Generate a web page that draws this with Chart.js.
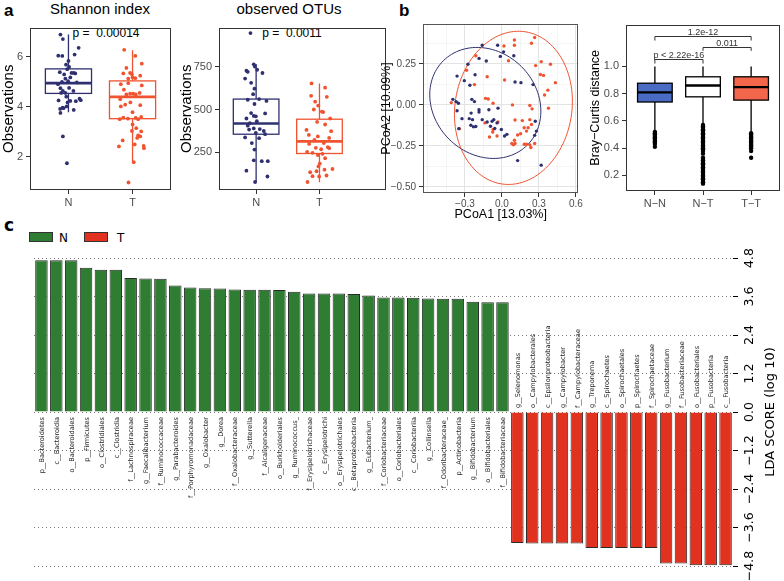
<!DOCTYPE html>
<html>
<head>
<meta charset="utf-8">
<script src="https://cdn.jsdelivr.net/npm/chart.js@4.4.0/dist/chart.umd.min.js"></script>
<style>
  body { margin: 0; width: 784px; height: 581px; overflow: hidden; position: relative; background: #fff; font-family: 'Liberation Sans', Arial, sans-serif; }
  canvas { position: absolute; }
  .txt { position: absolute; white-space: nowrap; line-height: 1; }
  .sw { position: absolute; width: 22px; height: 8px; border: 1px solid #333; }
</style>
</head>
<body>
<div class="txt" style="left:4px;top:2px;font-size:17px;font-weight:bold">a</div>
<div class="txt" style="left:399px;top:2px;font-size:17px;font-weight:bold">b</div>
<div class="txt" style="left:4px;top:217px;font-size:17px;font-weight:bold;font-family:'DejaVu Sans'">c</div>
<div class="txt" style="left:100px;top:1px;font-size:15px;transform:translateX(-50%)">Shannon index</div>
<div class="txt" style="left:289px;top:1px;font-size:15px;transform:translateX(-50%)">observed OTUs</div>
<div class="txt" style="left:106px;top:27px;font-size:12px;transform:translateX(-50%)">p =&nbsp; 0.00014</div>
<div class="txt" style="left:292px;top:27px;font-size:12px;transform:translateX(-50%)">p =&nbsp; 0.0011</div>
<div class="sw" style="left:29px;top:232px;background:#2F7D32"></div>
<div class="txt" style="left:59px;top:232px;font-size:12px;font-family:'DejaVu Sans'">N</div>
<div class="sw" style="left:84px;top:232px;background:#E0321F"></div>
<div class="txt" style="left:117px;top:232px;font-size:12px;font-family:'DejaVu Sans'">T</div>

<canvas id="shannon" width="180" height="195" style="left:0px;top:18px"></canvas>
<canvas id="otus" width="212" height="195" style="left:178px;top:18px"></canvas>
<canvas id="pcoa" width="205" height="207" style="left:379px;top:15px"></canvas>
<canvas id="bray" width="196" height="197" style="left:588px;top:15px"></canvas>
<canvas id="lda" width="784" height="336" style="left:0px;top:245px"></canvas>

<script>
// ---- panel a data ----
const groups = ['N', 'T'];
const shannonTicks = [2, 4, 6];
const otuTicks = [250, 500, 750];
// box stats: [lower whisker, q1, median, q3, upper whisker]
const shannonBox = [[3.78, 4.53, 4.94, 5.51, 6.88], [1.78, 3.52, 4.39, 5.03, 6.25]];
const otuBox = [[74, 355, 418, 561, 767], [74, 242, 313, 443, 653]];
// jittered points: [x offset, value]
const shannonN = [[-0.125,6.88],[-0.087,6.70],[-0.159,6.04],[-0.096,6.03],[0.096,6.08],[0.159,6.35],[0,5.83],[-0.038,5.68],[0.01,5.59],[-0.019,5.50],[-0.135,5.38],[0.048,5.35],[0.082,5.35],[0.106,5.33],[-0.067,5.29],[0.029,5.17],[-0.048,5.12],[-0.101,4.99],[-0.005,5.02],[0.13,4.97],[-0.163,4.90],[-0.125,4.74],[0.01,4.75],[-0.087,4.63],[0.077,4.63],[-0.115,4.55],[-0.048,4.55],[-0.034,4.40],[0.173,4.32],[0.192,4.26],[-0.154,4.25],[0.029,4.23],[0.115,4.22],[-0.014,4.17],[-0.029,4.01],[-0.091,3.96],[-0.13,3.91],[0.082,3.87],[-0.125,3.75],[-0.077,3.94],[-0.087,2.81],[-0.024,1.74]];
const shannonT = [[-0.13,6.27],[0.043,6.03],[0.144,5.72],[-0.096,5.55],[-0.144,5.33],[-0.038,5.35],[-0.01,5.30],[0.043,5.14],[-0.067,5.12],[0,5.17],[0.12,5.24],[-0.067,4.94],[0.144,4.85],[-0.183,4.90],[-0.135,4.68],[0.01,4.52],[0.048,4.49],[0.11,4.55],[-0.038,4.52],[-0.096,4.49],[-0.192,4.30],[-0.115,4.08],[-0.183,4.01],[-0.034,4.17],[0.12,4.06],[0,3.78],[-0.144,3.56],[-0.2,3.50],[-0.072,3.52],[0.048,3.55],[0.087,3.50],[0.135,3.59],[0,3.29],[0.058,3.14],[0.135,3.01],[0.087,2.85],[-0.01,3.03],[0.072,2.75],[0.12,2.81],[-0.154,2.65],[0.173,2.43],[0.178,2.34],[-0.212,2.41],[0.034,2.49],[0.019,1.78],[-0.063,0.97]];
const otuN = [[-0.089,948],[-0.037,765],[-0.021,752],[-0.153,727],[-0.132,721],[0.016,733],[0.1,714],[-0.174,681],[-0.079,656],[-0.026,622],[-0.047,590],[-0.132,557],[0.047,561],[0.163,550],[-0.026,532],[-0.079,479],[0.142,477],[-0.037,462],[-0.005,460],[-0.153,447],[0.011,431],[-0.1,420],[-0.132,405],[-0.037,389],[0.058,385],[-0.111,382],[0.121,374],[-0.005,363],[0.142,355],[-0.174,336],[0.047,332],[-0.068,303],[-0.026,265],[-0.037,202],[0.089,197],[0.184,197],[-0.153,141],[0.179,107],[-0.016,75]];
const otuT = [[-0.126,653],[0.089,628],[-0.132,580],[0.116,574],[-0.068,546],[-0.021,523],[-0.089,500],[0.037,488],[0.058,485],[0.168,447],[-0.037,427],[0.089,412],[-0.205,380],[0.184,373],[-0.168,351],[-0.026,342],[0.153,333],[-0.079,322],[0.068,303],[-0.163,298],[0.132,279],[0.153,273],[-0.058,275],[0.026,267],[-0.195,252],[-0.11,246],[0.047,240],[-0.026,233],[0.089,214],[0.005,183],[-0.016,166],[0.205,151],[0.079,147],[-0.147,132],[-0.047,138],[-0.11,109],[0.111,113],[-0.005,107],[-0.189,75]];

// ---- panel b data ----
const pcoaXTicks = [-0.3, 0, 0.3, 0.6];
const pcoaXMinor = [-0.6, -0.45, -0.15, 0.15, 0.45];
const pcoaYTicks = [-0.5, -0.25, 0, 0.25];
const pcoaYMinor = [-0.375, -0.125, 0.125, 0.375];
const pcoaN = [[-0.16,0.364],[-0.035,0.364],[0.013,0.324],[0.096,0.30],[-0.013,0.296],[-0.186,0.284],[-0.127,0.268],[-0.276,0.248],[-0.364,0.176],[-0.218,0.184],[-0.305,0.148],[-0.26,0.12],[0.106,0.14],[0.154,0.136],[0.252,0.124],[-0.398,0.034],[-0.372,0.02],[-0.353,0.01],[-0.244,0.034],[-0.223,0.02],[-0.364,-0.036],[-0.324,-0.084],[-0.25,-0.05],[-0.186,-0.03],[-0.239,-0.09],[-0.265,-0.084],[-0.252,-0.124],[-0.231,-0.134],[-0.212,-0.132],[-0.186,-0.044],[-0.106,-0.03],[-0.16,-0.09],[-0.12,-0.104],[-0.08,-0.1],[-0.066,-0.09],[-0.04,-0.11],[-0.032,-0.02],[-0.093,-0.13],[-0.058,-0.144],[-0.005,-0.15],[0.04,-0.18],[0.021,-0.19],[0.27,-0.1],[0.279,-0.16],[0.265,-0.186],[0.127,-0.34],[0.318,-0.368],[-0.35,-0.145]];
const pcoaT = [[-0.411,0.014],[-0.345,-0.145],[-0.212,0.30],[-0.287,0.212],[-0.223,0.124],[-0.12,0.172],[-0.133,0.04],[-0.111,0.036],[-0.072,0.01],[0.016,0.36],[0.101,0.396],[0.101,0.364],[0.053,0.27],[0.021,0.152],[0.265,0.412],[0.239,0.376],[0.273,0.24],[0.318,0.264],[0.393,0.248],[0.311,0.186],[0.337,0.18],[0.433,0.136],[0.372,0.09],[0.345,0.06],[0.377,-0.02],[0.085,0.0],[0.226,-0.004],[0.244,-0.024],[0.106,-0.092],[0.165,-0.096],[0.226,-0.09],[0.239,-0.12],[0.212,-0.14],[0.199,-0.16],[0.151,-0.176],[0.127,-0.184],[0.101,-0.216],[0.093,-0.244],[0.106,-0.236],[0.181,-0.24],[0.199,-0.24],[0.226,-0.244],[0.234,-0.26],[0.265,-0.236],[0.08,-0.236],[-0.101,-0.196],[-0.04,-0.19],[-0.072,-0.15],[-0.075,-0.166],[-0.138,-0.11],[-0.032,-0.104],[0.18,-0.14]];
// ellipse: [centre x, centre y, axis u (x, y), axis v (x, y)]
const ellipseN = [-0.135, 0.012, 0.341, -0.257, -0.294, -0.221];
const ellipseT = [0.093, -0.018, 0.478, 0.04, 0, 0.466];

const pairs = ['N\u2212N', 'N\u2212T', 'T\u2212T'];
const brayTicks = [0.2, 0.4, 0.6, 0.8, 1.0];
const brayBox = [[0.525, 0.739, 0.81, 0.877, 1.0], [0.568, 0.777, 0.86, 0.924, 1.0], [0.509, 0.753, 0.848, 0.924, 1.0]];
const brayOutNN = [0.52,0.51,0.50,0.49,0.48,0.47,0.46,0.45,0.44,0.43,0.41];
const brayOutNT = [0.57,0.56,0.55,0.54,0.53,0.52,0.51,0.50,0.49,0.48,0.47,0.46,0.45,0.44,0.43,0.42,0.41,0.40,0.39,0.38,0.36,0.33,0.32,0.31,0.30,0.29,0.28,0.27,0.26,0.25,0.24,0.23,0.22,0.21,0.20,0.19,0.18,0.17,0.16,0.15,0.14];
const brayOutTT = [0.51,0.50,0.49,0.48,0.47,0.46,0.45,0.44,0.43,0.42,0.41,0.40,0.38,0.33];
// brackets: [from, to, line level, tip level, label]
const brayBrackets = [[1, 3, 1.221, 1.19, '1.2e-12'], [2, 3, 1.145, 1.114, '0.011'], [1, 2, 1.057, 1.021, 'p < 2.22e-16']];

// ---- panel c data ----
const ldaLabels = ['p__Bacteroidetes','c__Bacteroidia','o__Bacteroidales','p__Firmicutes','o__Clostridiales','c__Clostridia','f__Lachnospiraceae','g__Faecalibacterium','f__Ruminococcaceae','g__Parabacteroides','f__Porphyromonadaceae','g__Oxalobacter','g__Dorea','f__Oxalobacteraceae','g__Sutterella','f__Alcaligenaceae','o__Burkholderiales','g__Ruminococcus_','f__Erysipelotrichaceae','c__Erysipelotrichi','o__Erysipelotrichales','c__Betaproteobacteria','g__Eubacterium_','f__Coriobacteriaceae','o__Coriobacteriales','c__Coriobacteriia','g__Collinsella','f__Odoribacteraceae_','p__Actinobacteria','g__Bifidobacterium','o__Bifidobacteriales','f__Bifidobacteriaceae','g__Selenomonas','o__Campylobacterales','c__Epsilonproteobacteria','g__Campylobacter','f__Campylobacteraceae','g__Treponema','c__Spirochaetes','o__Spirochaetales','p__Spirochaetes','f__Spirochaetaceae','g__Fusobacterium','f__Fusobacteriaceae','o__Fusobacteriales','p__Fusobacteria','c__Fusobacteria'];
const ldaScores = [4.73,4.73,4.73,4.50,4.43,4.43,4.18,4.16,4.15,3.94,3.88,3.86,3.85,3.82,3.81,3.81,3.80,3.75,3.69,3.69,3.69,3.68,3.63,3.57,3.57,3.56,3.54,3.53,3.53,3.44,3.42,3.42,-4.08,-4.10,-4.10,-4.10,-4.10,-4.24,-4.24,-4.24,-4.24,-4.24,-4.72,-4.72,-4.78,-4.78,-4.78];
const ldaTicks = [-4.8, -3.6, -2.4, -1.2, 0, 1.2, 2.4, 3.6, 4.8];

// ---- styles ----
const navy = '#2E3070';
const orange = '#F0532F';
const tickGray = '#4D4D4D';
const sans = "'Liberation Sans', Arial, sans-serif";
const fmt = (v, d) => v.toFixed(d).replace('-', '\u2212');
const setTicks = list => s => { s.ticks = list.map(v => ({ value: v })); };
const jitter = (pts, pos) => pts.map(([dx, v]) => ({ x: pos + dx, y: v }));
const column = (vals, pos) => vals.map(v => ({ x: pos, y: v }));

// box plots drawn through the chart scales
const boxPlugin = {
    id: 'boxes',
    beforeDatasetsDraw(chart, args, opts) {
        const x = chart.scales.x, y = chart.scales.y, c = chart.ctx;
        opts.stats.forEach((b, i) => {
            const cx = x.getPixelForValue(i + 1);
            const half = x.getPixelForValue(i + 1 + opts.width / 2) - cx;
            const lo = y.getPixelForValue(b[0]), q1 = y.getPixelForValue(b[1]);
            const med = y.getPixelForValue(b[2]), q3 = y.getPixelForValue(b[3]);
            const hi = y.getPixelForValue(b[4]);
            c.save();
            c.strokeStyle = opts.stroke[i];
            c.lineWidth = opts.lineWidth;
            c.beginPath();
            c.moveTo(cx, hi); c.lineTo(cx, q3);
            c.moveTo(cx, q1); c.lineTo(cx, lo);
            c.stroke();
            if (opts.fill) {
                c.fillStyle = opts.fill[i];
                c.fillRect(cx - half, q3, 2 * half, q1 - q3);
            }
            c.strokeRect(cx - half, q3, 2 * half, q1 - q3);
            c.lineWidth = opts.medianWidth;
            c.beginPath();
            c.moveTo(cx - half, med); c.lineTo(cx + half, med);
            c.stroke();
            c.restore();
        });
    }
};

const framePlugin = {
    id: 'frame',
    afterDraw(chart, args, opts) {
        const a = chart.chartArea, c = chart.ctx;
        c.save();
        c.strokeStyle = opts.color || '#333';
        c.lineWidth = 1;
        c.strokeRect(Math.round(a.left) + 0.5, Math.round(a.top) + 0.5, Math.round(a.right - a.left) - 1, Math.round(a.bottom - a.top) - 1);
        c.restore();
    }
};

const ellipsePlugin = {
    id: 'ellipses',
    beforeDatasetsDraw(chart, args, opts) {
        const x = chart.scales.x, y = chart.scales.y, c = chart.ctx;
        opts.items.forEach((e, k) => {
            c.save();
            c.strokeStyle = opts.colors[k];
            c.lineWidth = 1;
            c.beginPath();
            for (let s = 0; s <= 120; s++) {
                const t = s / 120 * Math.PI * 2;
                const px = x.getPixelForValue(e[0] + e[2] * Math.cos(t) + e[4] * Math.sin(t));
                const py = y.getPixelForValue(e[1] + e[3] * Math.cos(t) + e[5] * Math.sin(t));
                if (s === 0) c.moveTo(px, py); else c.lineTo(px, py);
            }
            c.stroke();
            c.restore();
        });
    }
};

const bracketPlugin = {
    id: 'brackets',
    afterDatasetsDraw(chart, args, opts) {
        const x = chart.scales.x, y = chart.scales.y, c = chart.ctx;
        c.save();
        c.strokeStyle = '#333';
        c.fillStyle = '#333';
        c.lineWidth = 1;
        c.font = '9px ' + sans;
        c.textAlign = 'center';
        c.textBaseline = 'alphabetic';
        opts.items.forEach(b => {
            const x1 = x.getPixelForValue(b[0]), x2 = x.getPixelForValue(b[1]);
            const yl = Math.round(y.getPixelForValue(b[2])) + 0.5, yt = y.getPixelForValue(b[3]);
            c.beginPath();
            c.moveTo(x1, yt); c.lineTo(x1, yl); c.lineTo(x2, yl); c.lineTo(x2, yt);
            c.stroke();
            c.fillText(b[4], (x1 + x2) / 2, yl - 2);
        });
        c.restore();
    }
};

const common = {
    responsive: false,
    animation: false,
    events: [],
    plugins: { legend: { display: false }, tooltip: { enabled: false } }
};

const tickFont = { family: sans, size: 11 };

function groupAxis(min, max, labels, height) {
    return {
        type: 'linear', min, max,
        afterBuildTicks: setTicks(labels.map((l, i) => i + 1)),
        afterFit: s => { s.height = height; },
        ticks: { callback: v => labels[v - 1], color: tickGray, font: tickFont, padding: 2, autoSkip: false, maxRotation: 0 },
        grid: { drawOnChartArea: false, tickLength: 4, tickColor: '#333' },
        border: { display: false }
    };
}

function valueAxis(min, max, ticks, width, title, digits, titleSize) {
    return {
        min, max,
        afterBuildTicks: setTicks(ticks),
        afterFit: s => { s.width = width; },
        ticks: { callback: v => fmt(v, digits), color: tickGray, font: tickFont, padding: 3 },
        grid: { drawOnChartArea: false, tickLength: 4, tickColor: '#333' },
        border: { display: false },
        title: { display: true, text: title, color: '#000', font: { family: sans, size: titleSize }, padding: 0 }
    };
}

// ---- Shannon index ----
new Chart(document.getElementById('shannon'), {
    type: 'scatter',
    data: { datasets: [
        { data: jitter(shannonN, 1), backgroundColor: navy, pointRadius: 1.9, borderWidth: 0 },
        { data: jitter(shannonT, 2), backgroundColor: orange, pointRadius: 1.9, borderWidth: 0 }
    ] },
    options: {
        ...common,
        layout: { padding: { top: 5, right: 9 } },
        plugins: { ...common.plugins, boxes: { stats: shannonBox, width: 0.72, stroke: [navy, orange], lineWidth: 1.3, medianWidth: 2.6 } },
        scales: {
            x: groupAxis(0.4, 2.6, groups, 23),
            y: valueAxis(0.67, 7.16, shannonTicks, 30, 'Observations', 0, 15)
        }
    },
    plugins: [boxPlugin, framePlugin]
});

// ---- observed OTUs ----
new Chart(document.getElementById('otus'), {
    type: 'scatter',
    data: { datasets: [
        { data: jitter(otuN, 1), backgroundColor: navy, pointRadius: 1.9, borderWidth: 0 },
        { data: jitter(otuT, 2), backgroundColor: orange, pointRadius: 1.9, borderWidth: 0 }
    ] },
    options: {
        ...common,
        layout: { padding: { top: 5, right: 2 } },
        plugins: { ...common.plugins, boxes: { stats: otuBox, width: 0.72, stroke: [navy, orange], lineWidth: 1.3, medianWidth: 2.6 } },
        scales: {
            x: groupAxis(0.414, 3.05, groups, 23),
            y: valueAxis(28, 980, otuTicks, 41, 'Observations', 0, 15)
        }
    },
    plugins: [boxPlugin, framePlugin]
});

// ---- PCoA ----
const pcoaGrid = major => ({
    color: ctx => major.includes(ctx.tick.value) ? '#E3E3E3' : '#F0F0F0',
    lineWidth: ctx => major.includes(ctx.tick.value) ? 1 : 0.7,
    tickColor: ctx => major.includes(ctx.tick.value) ? '#333' : 'rgba(0,0,0,0)',
    tickLength: 4
});
new Chart(document.getElementById('pcoa'), {
    type: 'scatter',
    data: { datasets: [
        { data: pcoaN.map(p => ({ x: p[0], y: p[1] })), backgroundColor: navy, pointRadius: 1.7, borderWidth: 0 },
        { data: pcoaT.map(p => ({ x: p[0], y: p[1] })), backgroundColor: orange, pointRadius: 1.7, borderWidth: 0 }
    ] },
    options: {
        ...common,
        layout: { padding: { top: 6, right: 3 } },
        plugins: { ...common.plugins, ellipses: { items: [ellipseN, ellipseT], colors: [navy, orange] }, frame: { color: '#555' } },
        scales: {
            x: {
                min: -0.64, max: 0.62,
                afterBuildTicks: setTicks([...pcoaXMinor, ...pcoaXTicks].sort((a, b) => a - b)),
                afterFit: s => { s.height = 29; },
                ticks: { callback: v => pcoaXTicks.includes(v) ? fmt(v, 1) : '', color: tickGray, font: { family: sans, size: 10 }, padding: 1, autoSkip: false, maxRotation: 0 },
                grid: pcoaGrid(pcoaXTicks),
                border: { display: false },
                title: { display: true, text: 'PCoA1 [13.03%]', color: '#000', font: { family: sans, size: 12.5 }, padding: 0 }
            },
            y: {
                min: -0.538, max: 0.494,
                afterBuildTicks: setTicks([...pcoaYMinor, ...pcoaYTicks].sort((a, b) => a - b)),
                afterFit: s => { s.width = 44; },
                ticks: { callback: v => pcoaYTicks.includes(v) ? fmt(v, 2) : '', color: tickGray, font: { family: sans, size: 10 }, padding: 3, autoSkip: false },
                grid: pcoaGrid(pcoaYTicks),
                border: { display: false },
                title: { display: true, text: 'PCoA2 [10.09%]', color: '#000', font: { family: sans, size: 12.5 }, padding: 0 }
            }
        }
    },
    plugins: [ellipsePlugin, framePlugin]
});

// ---- Bray-Curtis ----
new Chart(document.getElementById('bray'), {
    type: 'scatter',
    data: { datasets: [
        { data: [...column(brayOutNN, 1), ...column(brayOutNT, 2), ...column(brayOutTT, 3)], backgroundColor: '#000', pointRadius: 2.2, borderWidth: 0 }
    ] },
    options: {
        ...common,
        layout: { padding: { top: 5, right: 1 } },
        plugins: {
            ...common.plugins,
            boxes: { stats: brayBox, width: 0.72, stroke: ['#000', '#000', '#000'], fill: ['#4A6BC4', '#FFFFFF', '#F2664B'], lineWidth: 1.3, medianWidth: 2.4 },
            brackets: { items: brayBrackets }
        },
        scales: {
            x: groupAxis(0.4, 3.6, pairs, 21),
            y: valueAxis(0.086, 1.307, brayTicks, 38, 'Bray\u2212Curtis distance', 1, 12.5)
        }
    },
    plugins: [boxPlugin, bracketPlugin, framePlugin]
});

// ---- LDA bars ----
const ldaFont = "'DejaVu Sans', sans-serif";
const ldaDecor = {
    id: 'ldaDecor',
    afterDatasetsDraw(chart) {
        const x = chart.scales.x, y = chart.scales.y, c = chart.ctx;
        const y0 = y.getPixelForValue(0);
        c.save();
        c.fillStyle = '#222';
        c.font = '6.6px ' + ldaFont;
        c.textBaseline = 'middle';
        ldaLabels.forEach((t, i) => {
            const up = ldaScores[i] < 0;
            c.save();
            c.translate(x.getPixelForValue(i) + 1, up ? y0 - 4 : y0 + 5);
            c.rotate(-Math.PI / 2);
            c.textAlign = up ? 'left' : 'right';
            c.fillText(t, 0, 0);
            c.restore();
        });
        c.fillStyle = '#000';
        c.textAlign = 'center';
        c.font = '12.5px ' + ldaFont;
        ldaTicks.forEach(v => {
            c.save();
            c.translate(y.left + 17, y.getPixelForValue(v));
            c.rotate(-Math.PI / 2);
            c.fillText(fmt(v, 1), 0, 0);
            c.restore();
        });
        c.font = '13px ' + ldaFont;
        c.translate(y.left + 38, y0);
        c.rotate(-Math.PI / 2);
        c.fillText('LDA SCORE (log 10)', 0, 0);
        c.restore();
    }
};

new Chart(document.getElementById('lda'), {
    type: 'bar',
    data: {
        labels: ldaLabels,
        datasets: [{
            data: ldaScores,
            backgroundColor: ldaScores.map(v => v > 0 ? '#2F7D32' : '#E0321F'),
            borderColor: '#2a2a2a',
            borderWidth: 1,
            categoryPercentage: 1,
            barPercentage: 0.84
        }]
    },
    options: {
        ...common,
        layout: { padding: { left: 34, top: 13, bottom: 15 } },
        scales: {
            x: { display: false },
            y: {
                position: 'right',
                min: -4.8, max: 4.8,
                afterBuildTicks: setTicks(ldaTicks),
                afterFit: s => { s.width = 51; },
                ticks: { display: false },
                grid: { color: '#777', lineWidth: 1, tickLength: 5, tickColor: '#000' },
                border: { display: false, dash: [1, 3] }
            }
        }
    },
    plugins: [ldaDecor]
});
</script>
</body>
</html>
